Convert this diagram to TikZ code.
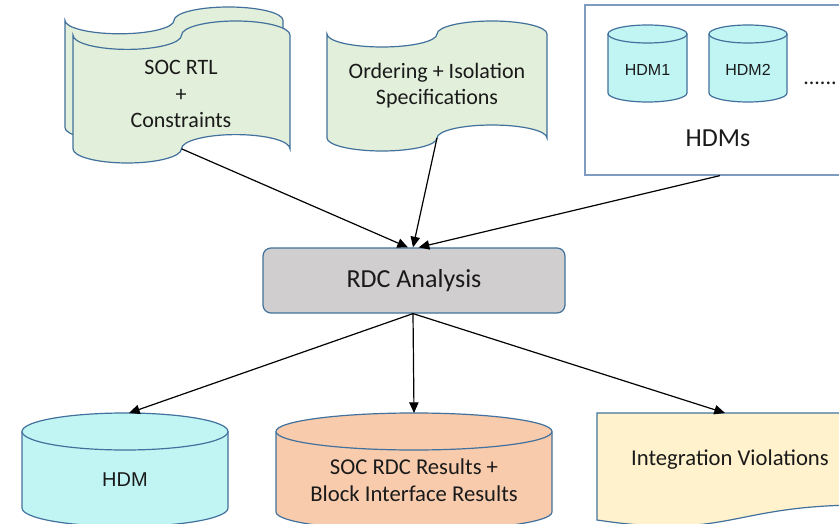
\documentclass[tikz,border=0pt]{standalone}
\usepackage{fontspec}
\setmainfont{Carlito}
\newfontfamily\arialfont{Liberation Sans}
\usetikzlibrary{arrows.meta}

\definecolor{edgeblue}{HTML}{41719C}
\definecolor{frameblue}{HTML}{7F9CC0}
\definecolor{tapegreen}{HTML}{E2EFDA}
\definecolor{cancyan}{HTML}{C1F5F4}
\definecolor{canpeach}{HTML}{F8CBAD}
\definecolor{docyellow}{HTML}{FFF2CC}
\definecolor{boxgray}{HTML}{D0CECE}
\definecolor{inkgray}{HTML}{1A1A1A}

% Punched-tape outline: #1 style, #2 left, #3 top, #4 width, #5 height,
% #6 name of the coordinate at the middle of the lower edge
\newcommand{\tapeshape}[6]{%
  \pgfmathsetmacro\tpR{#4/4}%
  \pgfmathsetmacro\tpD{#5/10}%
  \pgfmathsetmacro\tpKx{0.5523*\tpR}%
  \pgfmathsetmacro\tpKy{0.5523*\tpD}%
  \pgfmathsetmacro\tpXa{#2}%
  \pgfmathsetmacro\tpXb{#2+\tpR}%
  \pgfmathsetmacro\tpXc{#2+2*\tpR}%
  \pgfmathsetmacro\tpXd{#2+3*\tpR}%
  \pgfmathsetmacro\tpXe{#2+4*\tpR}%
  \pgfmathsetmacro\tpXbm{\tpXb-\tpKx}%
  \pgfmathsetmacro\tpXbp{\tpXb+\tpKx}%
  \pgfmathsetmacro\tpXdm{\tpXd-\tpKx}%
  \pgfmathsetmacro\tpXdp{\tpXd+\tpKx}%
  \pgfmathsetmacro\tpYa{#3}%
  \pgfmathsetmacro\tpYb{#3+\tpD}%
  \pgfmathsetmacro\tpYc{#3+2*\tpD}%
  \pgfmathsetmacro\tpYbm{\tpYb-\tpKy}%
  \pgfmathsetmacro\tpYbp{\tpYb+\tpKy}%
  \pgfmathsetmacro\tpZa{#3+#5-2*\tpD}%
  \pgfmathsetmacro\tpZb{#3+#5-\tpD}%
  \pgfmathsetmacro\tpZc{#3+#5}%
  \pgfmathsetmacro\tpZbm{\tpZb-\tpKy}%
  \pgfmathsetmacro\tpZbp{\tpZb+\tpKy}%
  \draw[#1] (\tpXa,\tpYb) .. controls (\tpXa,\tpYbp) and (\tpXbm,\tpYc) .. (\tpXb,\tpYc)
    .. controls (\tpXbp,\tpYc) and (\tpXc,\tpYbp) .. (\tpXc,\tpYb)
    .. controls (\tpXc,\tpYbm) and (\tpXdm,\tpYa) .. (\tpXd,\tpYa)
    .. controls (\tpXdp,\tpYa) and (\tpXe,\tpYbm) .. (\tpXe,\tpYb)
    -- (\tpXe,\tpZb)
    .. controls (\tpXe,\tpZbm) and (\tpXdp,\tpZa) .. (\tpXd,\tpZa)
    .. controls (\tpXdm,\tpZa) and (\tpXc,\tpZbm) .. (\tpXc,\tpZb)
    .. controls (\tpXc,\tpZbp) and (\tpXbp,\tpZc) .. (\tpXb,\tpZc)
    .. controls (\tpXbm,\tpZc) and (\tpXa,\tpZbp) .. (\tpXa,\tpZb) -- cycle;
  \coordinate (#6) at (\tpXc,\tpZb);
}

% Upright cylinder: #1 style, #2 left, #3 right, #4 top, #5 y of the lower rim centre,
% #6 vertical radius of the rims, #7 name of the coordinate at the top
\newcommand{\cylshape}[7]{%
  \pgfmathsetmacro\cyC{(#2+#3)/2}%
  \pgfmathsetmacro\cyRx{(#3-#2)/2}%
  \pgfmathsetmacro\cyE{#4+#6}%
  \pgfmathsetmacro\cyKx{0.5523*\cyRx}%
  \pgfmathsetmacro\cyKy{0.5523*#6}%
  \pgfmathsetmacro\cyBl{#5+\cyKy}%
  \pgfmathsetmacro\cyBb{#5+#6}%
  \pgfmathsetmacro\cyCm{\cyC-\cyKx}%
  \pgfmathsetmacro\cyCp{\cyC+\cyKx}%
  \draw[#1] (#2,\cyE) -- (#2,#5) .. controls (#2,\cyBl) and (\cyCm,\cyBb) .. (\cyC,\cyBb)
     .. controls (\cyCp,\cyBb) and (#3,\cyBl) .. (#3,#5) -- (#3,\cyE);
  \draw[#1] (\cyC,\cyE) ellipse [x radius=\cyRx, y radius=#6];
  \coordinate (#7) at (\cyC,#4);
}

\tikzset{
  outline/.style={draw=edgeblue, line width=0.9pt},
  tapestyle/.style={outline, fill=tapegreen},
  cyanstyle/.style={outline, fill=cancyan},
  peachstyle/.style={outline, fill=canpeach},
  txt/.style={text=inkgray, align=center, inner sep=0pt},
  flow/.style={draw=black, line width=0.9pt, -{Triangle[length=8pt,width=7pt]}},
}

\begin{document}
\begin{tikzpicture}[x=0.75pt, y=-0.75pt]
  \useasboundingbox (0,0) rectangle (839,524);
  \fill[white] (0,0) rectangle (839,524);
  \clip (0,0) rectangle (839,524);

  % stacked source documents
  \tapeshape{tapestyle}{65}{7}{218}{134}{socBack}
  \tapeshape{tapestyle}{73}{21}{217}{142}{socOut}
  \node[txt, font=\fontsize{16.5}{20}\selectfont] (soc) at (181,94) {SOC RTL\\+\\Constraints};

  \tapeshape{tapestyle}{327}{21}{220}{130}{ordOut}
  \node[txt, font=\fontsize{16.5}{19.5}\selectfont] (ord) at (437,86) {Ordering + Isolation\\Specifications};

  % collection of design models
  \node[draw=frameblue, line width=0.9pt, fill=white, minimum width=195pt, minimum height=127.5pt,
        inner sep=0pt] (hdmsbox) at (715,90) {};
  \cylshape{cyanstyle}{608}{687}{25}{93}{9}{hdmOneTop}
  \node[txt, font=\arialfont\fontsize{12}{14}\selectfont] (hdmone) at (647.5,70) {HDM1};
  \cylshape{cyanstyle}{709}{787}{25}{93}{9}{hdmTwoTop}
  \node[txt, font=\arialfont\fontsize{12}{14}\selectfont] (hdmtwo) at (748,70) {HDM2};
  \node[txt, font=\fontsize{16.5}{19}\selectfont, anchor=base] (dots) at (820,85) {......};
  \node[txt, font=\fontsize{19.5}{23}\selectfont] (hdms) at (718,138) {HDMs};
  \coordinate (hdmsOut) at ([xshift=3.75pt]hdmsbox.south);

  % analysis step
  \node[draw=edgeblue, line width=0.9pt, fill=boxgray, rounded corners=6pt,
        minimum width=226.5pt, minimum height=48.75pt, inner sep=0pt,
        text=inkgray, font=\fontsize{19.5}{23}\selectfont] (rdc) at (414,280.5) {RDC Analysis};

  % outputs
  \cylshape{cyanstyle}{22}{228}{413}{508}{18.5}{hdmTop}
  \node[txt, font=\arialfont\fontsize{15}{18}\selectfont] (hdm) at (125,480) {HDM};

  \cylshape{peachstyle}{276}{552}{413}{512}{18.5}{resTop}
  \node[txt, font=\fontsize{17}{20}\selectfont] (res) at (414,480.5) {SOC RDC Results +\\Block Interface Results};

  \draw[outline, fill=docyellow] (597,413) -- (863,413) -- (863,505)
     .. controls (730,505) and (730,540) .. (597,520) -- cycle;
  \coordinate (vioTop) at (725,413);
  \node[txt, font=\fontsize{17}{20}\selectfont] (vio) at (730,460) {Integration Violations};

  % connectors
  \draw[flow] (socOut) -- ([xshift=-4.5pt]rdc.north);
  \draw[flow] (ordOut) -- ([xshift=-0.75pt]rdc.north);
  \draw[flow] (hdmsOut) -- ([xshift=3.5pt]rdc.north);
  \draw[flow] ([xshift=-0.75pt]rdc.south) -- ([xshift=3pt]hdmTop);
  \draw[flow] ([xshift=-0.75pt]rdc.south) -- (resTop);
  \draw[flow] ([xshift=-0.75pt]rdc.south) -- (vioTop);
\end{tikzpicture}
\end{document}
